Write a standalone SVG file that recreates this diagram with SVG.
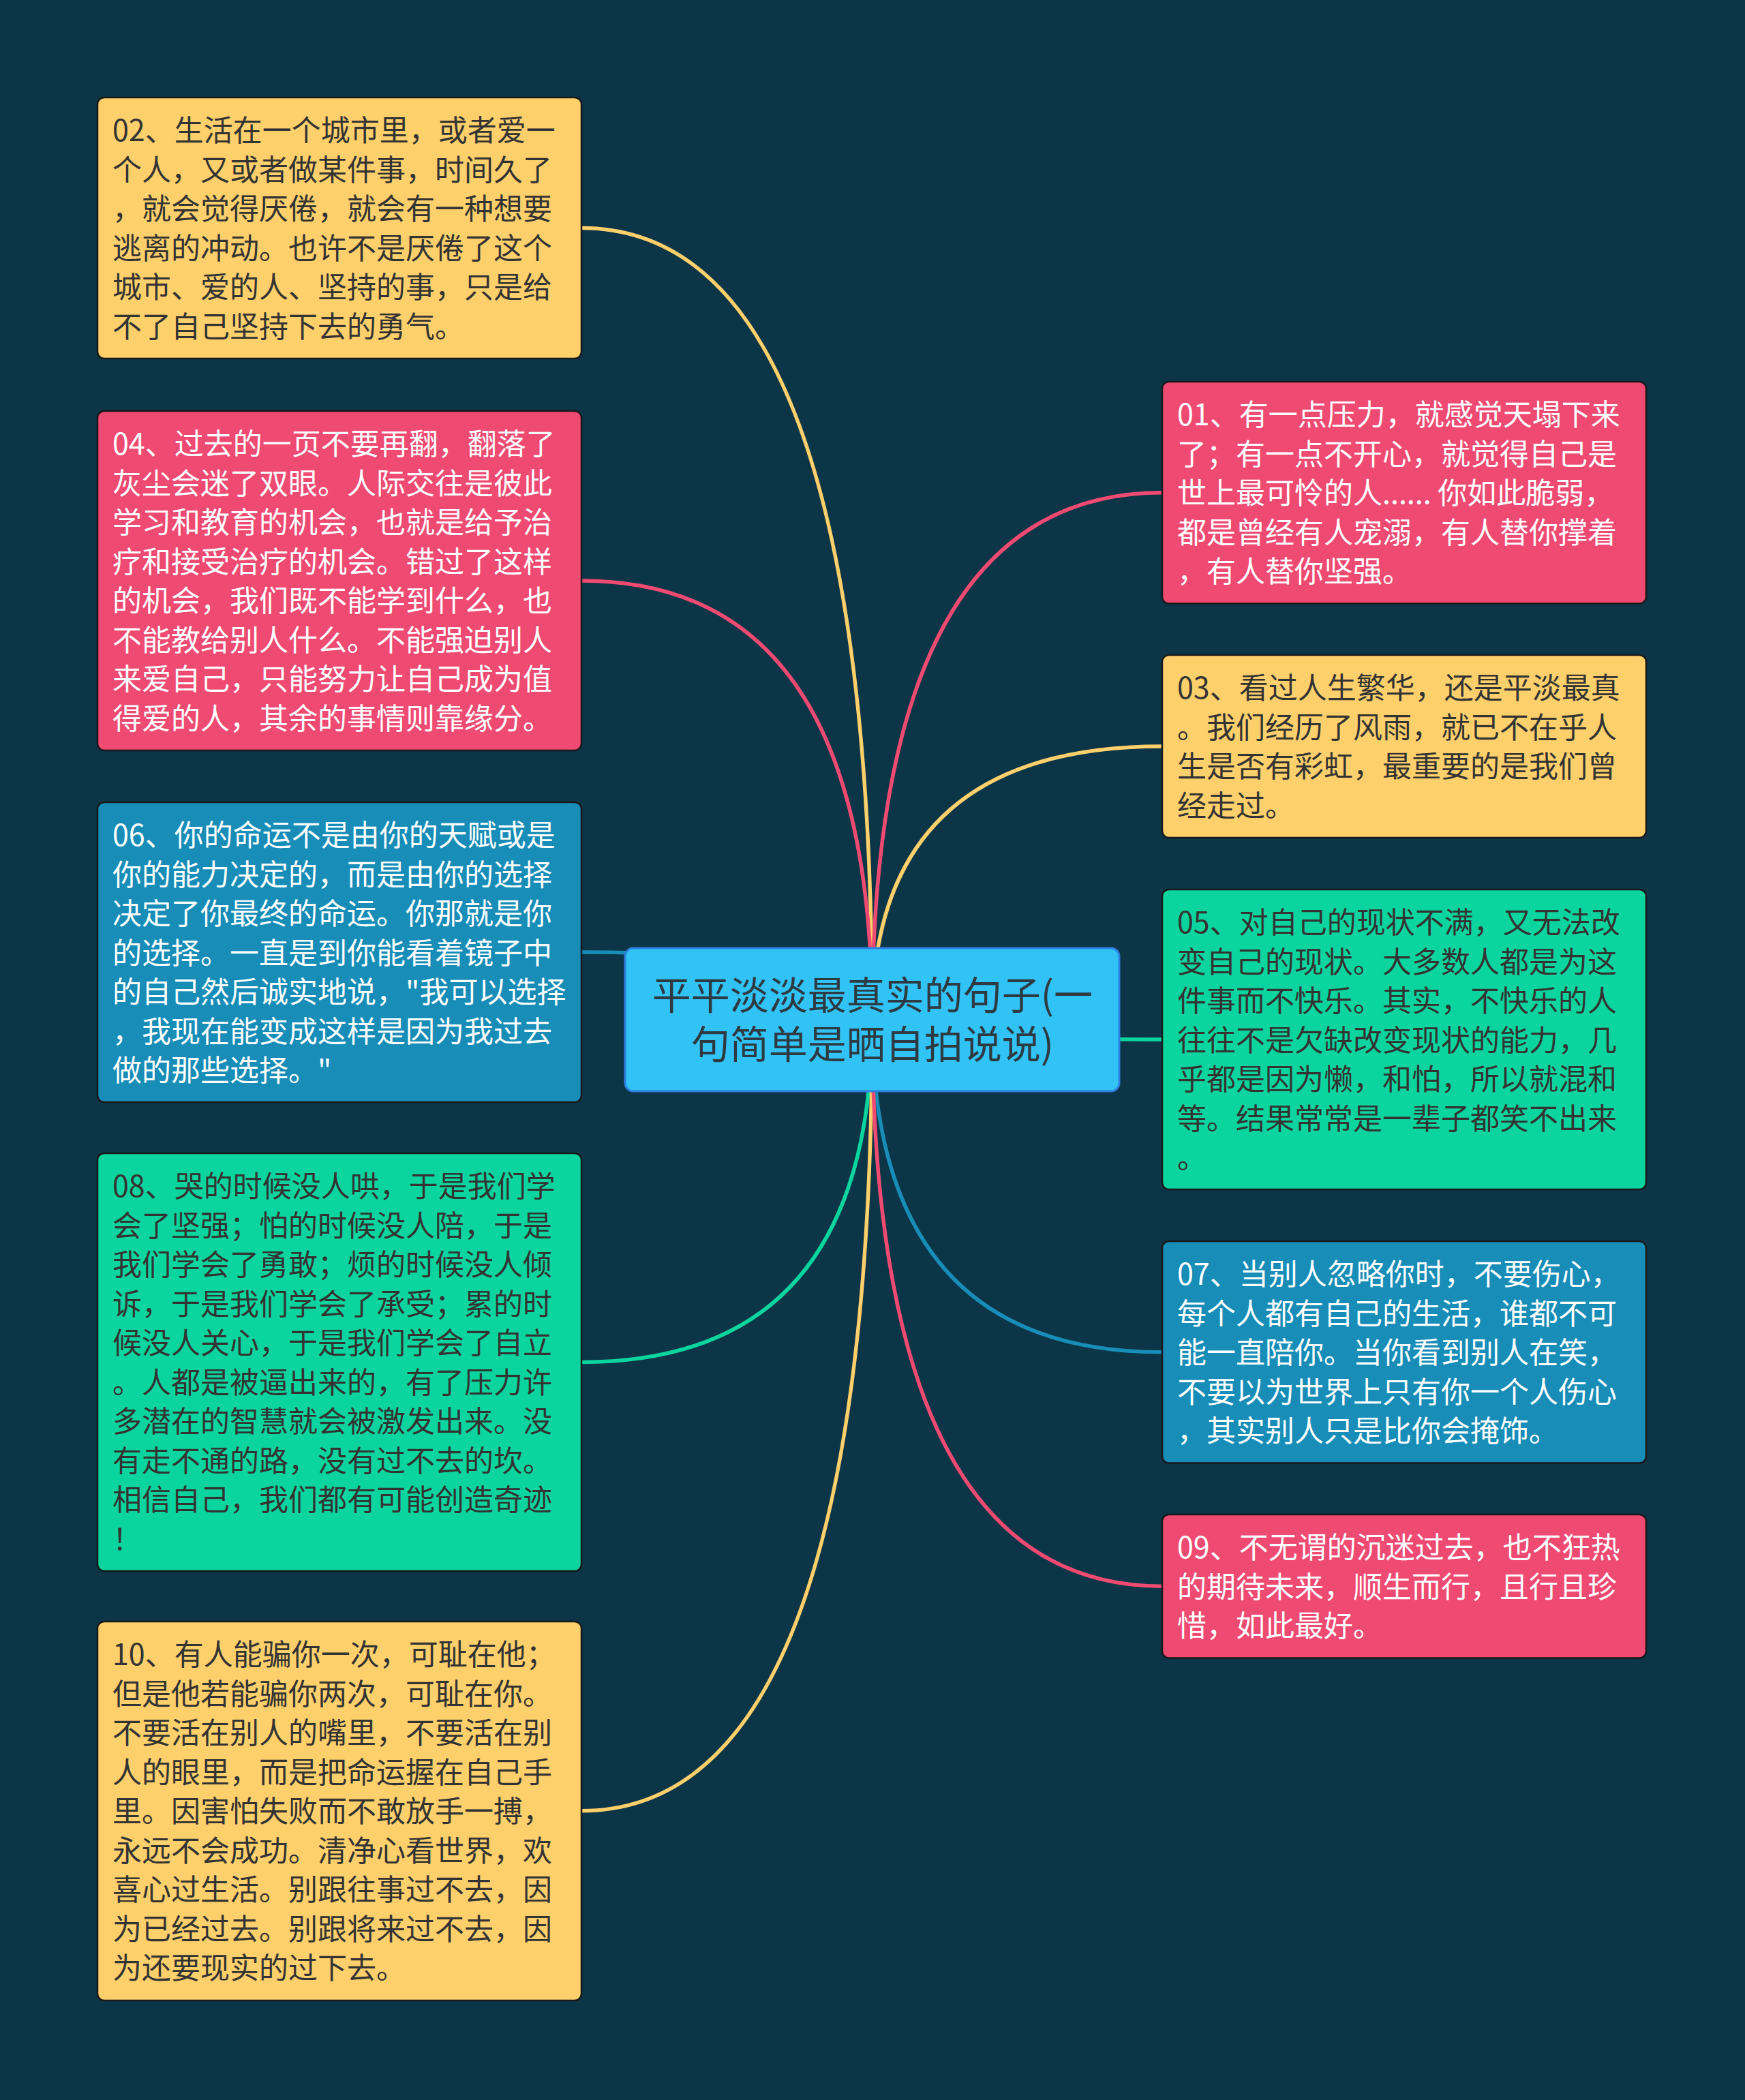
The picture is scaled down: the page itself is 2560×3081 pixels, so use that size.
<svg xmlns="http://www.w3.org/2000/svg" width="2560" height="3081" viewBox="0 0 2560 3081">
<style>
.bg{fill:#0c3547}
.box{stroke:#17191a;stroke-width:2.5}
.yellow{fill:#fed06b}
.pink{fill:#ef4a72}
.blue{fill:#178db7}
.green{fill:#0bd59f}
.t{font-family:"Noto Sans CJK SC","Noto Sans",sans-serif;font-size:43px}
.dark{fill:#333333}
.light{fill:#ffffff}
.c{fill:none;stroke-width:5.5;stroke-linecap:round}
.cy{stroke:#fed06b}
.cp{stroke:#ef4a72}
.cb{stroke:#178db7}
.cg{stroke:#0bd59f}
.center{fill:#31c3f5;stroke:#2f7fe0;stroke-width:3}
.ct{font-family:"Noto Sans CJK SC","Noto Sans",sans-serif;font-size:57px;fill:#2e3a42;text-anchor:middle}
</style>
<rect class="bg" x="0" y="0" width="2560" height="3081"/>
<g id="connectors">
<path class="c cy" d="M853 334.5 Q1279.5 334.5 1279.5 1496"/>
<path class="c cp" d="M853 852 Q1279.5 852 1279.5 1496"/>
<path class="c cb" d="M853 1397 Q1279.5 1397 1279.5 1496"/>
<path class="c cg" d="M853 1998.5 Q1279.5 1998.5 1279.5 1496"/>
<path class="c cy" d="M853 2656.75 Q1279.5 2656.75 1279.5 1496"/>
<path class="c cp" d="M1705 722.75 Q1279.5 722.75 1279.5 1496"/>
<path class="c cy" d="M1705 1095 Q1279.5 1095 1279.5 1496"/>
<path class="c cg" d="M1705 1525 Q1279.5 1525 1279.5 1496"/>
<path class="c cb" d="M1705 1983.75 Q1279.5 1983.75 1279.5 1496"/>
<path class="c cp" d="M1705 2327.25 Q1279.5 2327.25 1279.5 1496"/>
</g>
<g id="center">
<rect class="center" x="917" y="1391" width="725" height="210" rx="12"/>
<text class="ct"><tspan x="1280" y="1481">平平淡淡最真实的句子(一</tspan><tspan x="1280" y="1553">句简单是晒自拍说说)</tspan></text>
</g>
<g id="n02">
<rect class="box yellow" x="143" y="143" width="710" height="383" rx="10"/>
<text class="t dark"><tspan x="165" y="207">02、生活在一个城市里，或者爱一</tspan><tspan x="165" y="264.5">个人，又或者做某件事，时间久了</tspan><tspan x="165" y="322">，就会觉得厌倦，就会有一种想要</tspan><tspan x="165" y="379.5">逃离的冲动。也许不是厌倦了这个</tspan><tspan x="165" y="437">城市、爱的人、坚持的事，只是给</tspan><tspan x="165" y="494.5">不了自己坚持下去的勇气。</tspan></text>
</g>
<g id="n04">
<rect class="box pink" x="143" y="603" width="710" height="498" rx="10"/>
<text class="t light"><tspan x="165" y="667">04、过去的一页不要再翻，翻落了</tspan><tspan x="165" y="724.5">灰尘会迷了双眼。人际交往是彼此</tspan><tspan x="165" y="782">学习和教育的机会，也就是给予治</tspan><tspan x="165" y="839.5">疗和接受治疗的机会。错过了这样</tspan><tspan x="165" y="897">的机会，我们既不能学到什么，也</tspan><tspan x="165" y="954.5">不能教给别人什么。不能强迫别人</tspan><tspan x="165" y="1012">来爱自己，只能努力让自己成为值</tspan><tspan x="165" y="1069.5">得爱的人，其余的事情则靠缘分。</tspan></text>
</g>
<g id="n06">
<rect class="box blue" x="143" y="1177" width="710" height="440" rx="10"/>
<text class="t light"><tspan x="165" y="1241">06、你的命运不是由你的天赋或是</tspan><tspan x="165" y="1298.5">你的能力决定的，而是由你的选择</tspan><tspan x="165" y="1356">决定了你最终的命运。你那就是你</tspan><tspan x="165" y="1413.5">的选择。一直是到你能看着镜子中</tspan><tspan x="165" y="1471">的自己然后诚实地说，"我可以选择</tspan><tspan x="165" y="1528.5">，我现在能变成这样是因为我过去</tspan><tspan x="165" y="1586">做的那些选择。"</tspan></text>
</g>
<g id="n08">
<rect class="box green" x="143" y="1692" width="710" height="613" rx="10"/>
<text class="t dark"><tspan x="165" y="1756">08、哭的时候没人哄，于是我们学</tspan><tspan x="165" y="1813.5">会了坚强；怕的时候没人陪，于是</tspan><tspan x="165" y="1871">我们学会了勇敢；烦的时候没人倾</tspan><tspan x="165" y="1928.5">诉，于是我们学会了承受；累的时</tspan><tspan x="165" y="1986">候没人关心，于是我们学会了自立</tspan><tspan x="165" y="2043.5">。人都是被逼出来的，有了压力许</tspan><tspan x="165" y="2101">多潜在的智慧就会被激发出来。没</tspan><tspan x="165" y="2158.5">有走不通的路，没有过不去的坎。</tspan><tspan x="165" y="2216">相信自己，我们都有可能创造奇迹</tspan><tspan x="165" y="2273.5">！</tspan></text>
</g>
<g id="n10">
<rect class="box yellow" x="143" y="2379" width="710" height="556" rx="10"/>
<text class="t dark"><tspan x="165" y="2443">10、有人能骗你一次，可耻在他；</tspan><tspan x="165" y="2500.5">但是他若能骗你两次，可耻在你。</tspan><tspan x="165" y="2558">不要活在别人的嘴里，不要活在别</tspan><tspan x="165" y="2615.5">人的眼里，而是把命运握在自己手</tspan><tspan x="165" y="2673">里。因害怕失败而不敢放手一搏，</tspan><tspan x="165" y="2730.5">永远不会成功。清净心看世界，欢</tspan><tspan x="165" y="2788">喜心过生活。别跟往事过不去，因</tspan><tspan x="165" y="2845.5">为已经过去。别跟将来过不去，因</tspan><tspan x="165" y="2903">为还要现实的过下去。</tspan></text>
</g>
<g id="n01">
<rect class="box pink" x="1705" y="560" width="710" height="325.5" rx="10"/>
<text class="t light"><tspan x="1727" y="624">01、有一点压力，就感觉天塌下来</tspan><tspan x="1727" y="681.5">了；有一点不开心，就觉得自己是</tspan><tspan x="1727" y="739">世上最可怜的人...... 你如此脆弱，</tspan><tspan x="1727" y="796.5">都是曾经有人宠溺，有人替你撑着</tspan><tspan x="1727" y="854">，有人替你坚强。</tspan></text>
</g>
<g id="n03">
<rect class="box yellow" x="1705" y="961" width="710" height="268" rx="10"/>
<text class="t dark"><tspan x="1727" y="1025">03、看过人生繁华，还是平淡最真</tspan><tspan x="1727" y="1082.5">。我们经历了风雨，就已不在乎人</tspan><tspan x="1727" y="1140">生是否有彩虹，最重要的是我们曾</tspan><tspan x="1727" y="1197.5">经走过。</tspan></text>
</g>
<g id="n05">
<rect class="box green" x="1705" y="1305" width="710" height="440" rx="10"/>
<text class="t dark"><tspan x="1727" y="1369">05、对自己的现状不满，又无法改</tspan><tspan x="1727" y="1426.5">变自己的现状。大多数人都是为这</tspan><tspan x="1727" y="1484">件事而不快乐。其实，不快乐的人</tspan><tspan x="1727" y="1541.5">往往不是欠缺改变现状的能力，几</tspan><tspan x="1727" y="1599">乎都是因为懒，和怕，所以就混和</tspan><tspan x="1727" y="1656.5">等。结果常常是一辈子都笑不出来</tspan><tspan x="1727" y="1714">。</tspan></text>
</g>
<g id="n07">
<rect class="box blue" x="1705" y="1821" width="710" height="325.5" rx="10"/>
<text class="t light"><tspan x="1727" y="1885">07、当别人忽略你时，不要伤心，</tspan><tspan x="1727" y="1942.5">每个人都有自己的生活，谁都不可</tspan><tspan x="1727" y="2000">能一直陪你。当你看到别人在笑，</tspan><tspan x="1727" y="2057.5">不要以为世界上只有你一个人伤心</tspan><tspan x="1727" y="2115">，其实别人只是比你会掩饰。</tspan></text>
</g>
<g id="n09">
<rect class="box pink" x="1705" y="2222" width="710" height="210.5" rx="10"/>
<text class="t light"><tspan x="1727" y="2286">09、不无谓的沉迷过去，也不狂热</tspan><tspan x="1727" y="2343.5">的期待未来，顺生而行，且行且珍</tspan><tspan x="1727" y="2401">惜，如此最好。</tspan></text>
</g>
</svg>
